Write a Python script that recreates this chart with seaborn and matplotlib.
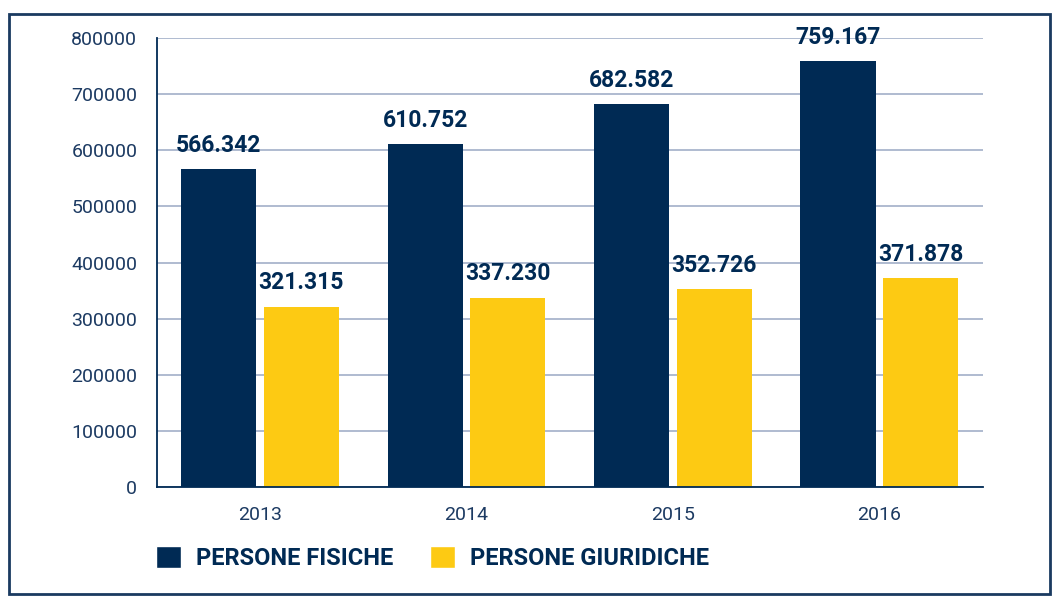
import pandas as pd
import matplotlib.pyplot as plt
import seaborn as sns
from matplotlib.patches import Rectangle, Patch

# Values
years = ['2013', '2014', '2015', '2016']
persone_fisiche = [566342, 610752, 682582, 759167]
persone_giuridiche = [321315, 337230, 352726, 371878]
series_names = ['PERSONE FISICHE', 'PERSONE GIURIDICHE']

navy = '#002a54'
yellow = '#fdca13'
text_col = '#1c3a62'
grid_col = '#a9b5cd'

df = pd.DataFrame({
    'Anno': years * 2,
    'Valore': persone_fisiche + persone_giuridiche,
    'Serie': [series_names[0]] * len(years) + [series_names[1]] * len(years),
})

sns.set_style('white')
plt.rcParams['font.family'] = ['Roboto', 'DejaVu Sans']

fig = plt.figure(figsize=(10.52, 5.96), dpi=100)
ax = fig.add_axes([0.149, 0.183, 0.785, 0.753])

sns.barplot(data=df, x='Anno', y='Valore', hue='Serie', palette=[navy, yellow],
            saturation=1, width=0.8, gap=0.09, errorbar=None, legend=False,
            linewidth=0, ax=ax, zorder=3)

# value labels in Italian format
for container in ax.containers:
    labels = [f'{int(b.get_height()):,}'.replace(',', '.') for b in container]
    ax.bar_label(container, labels=labels, padding=9, fontsize=16.5,
                 fontweight='bold', color=navy)

ax.set_ylim(0, 800000)
ax.set_xlim(-0.5, 3.5)
ax.set_yticks(range(0, 800001, 100000))
ax.yaxis.grid(True, color=grid_col, linewidth=1.3, zorder=0)
ax.set_axisbelow(True)
ax.set_xlabel('')
ax.set_ylabel('')

ax.tick_params(axis='y', length=0, pad=14, labelsize=14, labelcolor=text_col)
ax.tick_params(axis='x', which='major', length=0, pad=14, labelsize=14, labelcolor=text_col)
ax.set_xticks([0.5, 1.5, 2.5, 3.5], minor=True)
ax.tick_params(axis='x', which='minor', direction='in', length=9, width=1.2, color='#3a5275')

for side in ['top', 'right']:
    ax.spines[side].set_visible(False)
for side in ['left', 'bottom']:
    ax.spines[side].set_color(navy)
    ax.spines[side].set_linewidth(1.3)
    ax.spines[side].set_zorder(4)

handles = [Patch(facecolor=navy), Patch(facecolor=yellow)]
fig.legend(handles, series_names, loc='center left', bbox_to_anchor=(0.128, 0.064),
           ncol=2, frameon=False, handlelength=1.06, handleheight=1.06,
           handletextpad=0.64, columnspacing=1.55,
           prop={'weight': 'bold', 'size': 17}, labelcolor=navy)

# outer frame
fig.patches.append(Rectangle((0.009, 0.004), 0.989, 0.973, transform=fig.transFigure,
                             fill=False, edgecolor='#1a3a60', linewidth=2))

fig.savefig('out.png', dpi=100)
